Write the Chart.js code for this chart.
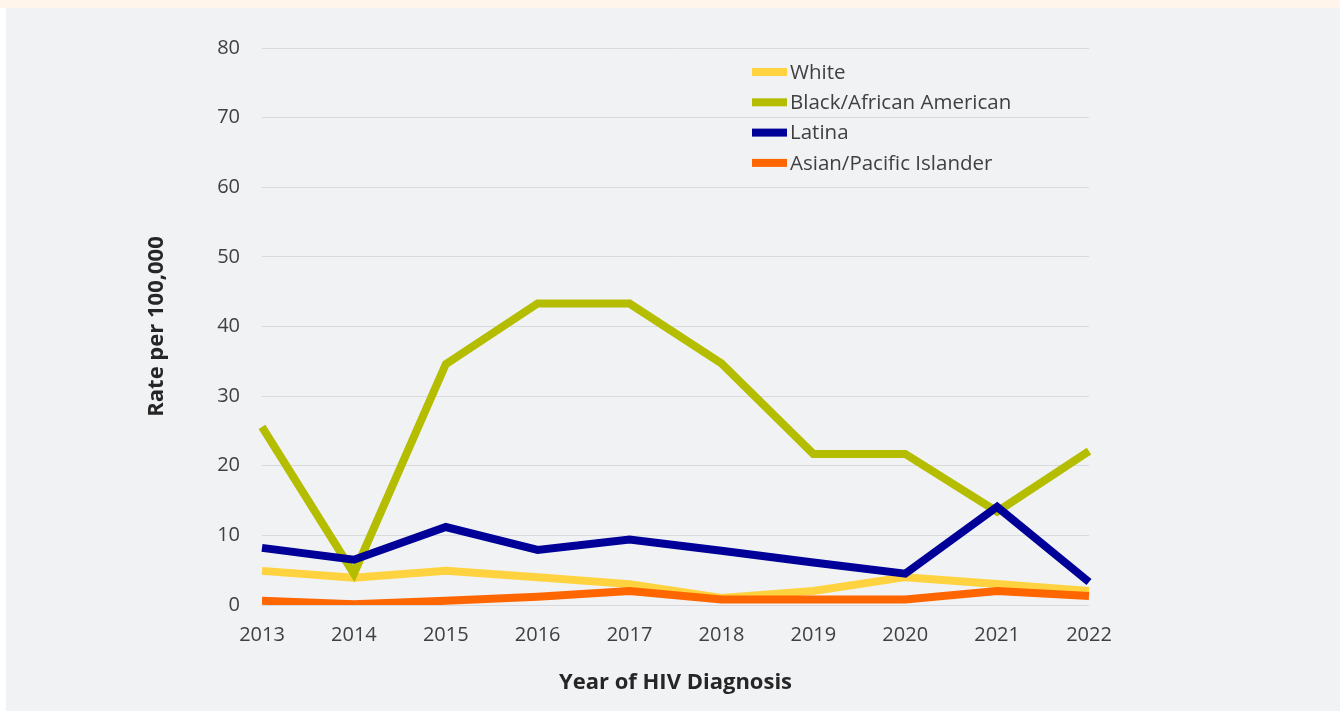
<!DOCTYPE html>
<html>
<head>
<meta charset="utf-8">
<script src="https://cdn.jsdelivr.net/npm/chart.js@4"></script>
<style>
  html, body { margin: 0; padding: 0; background: #ffffff; }
  #top { position: absolute; left: 0; top: 0; width: 1340px; height: 8px; background: #fff5ea; }
  #panel { position: absolute; left: 6px; top: 8px; width: 1334px; height: 703px; background: #f1f2f4; }
</style>
</head>
<body>
<div id="top"></div>
<div id="panel"><canvas id="rateChart" width="1334" height="703"></canvas></div>
<script>
  const years = ['2013', '2014', '2015', '2016', '2017', '2018', '2019', '2020', '2021', '2022'];
  const white = [4.9, 3.9, 4.9, 4.0, 3.0, 1.0, 2.0, 4.0, 3.0, 2.0];
  const black = [25.6, 4.5, 34.6, 43.3, 43.3, 34.7, 21.7, 21.7, 13.4, 22.1];
  const latina = [8.2, 6.5, 11.2, 7.9, 9.4, 7.8, 6.1, 4.5, 14.1, 3.3];
  const asian = [0.6, 0.1, 0.6, 1.2, 2.0, 0.8, 0.8, 0.8, 2.0, 1.3];
  const yTicks = [0, 10, 20, 30, 40, 50, 60, 70, 80];

  const seriesNames = ['White', 'Black/African American', 'Latina', 'Asian/Pacific Islander'];
  const seriesColors = ['#ffd33f', '#b5bd00', '#000099', '#ff6600'];
  const seriesData = [white, black, latina, asian];

  const textColor = '#404040';
  const fontFamily = "'Open Sans', sans-serif";

  // legend drawn by hand so it sits inside the plot like the original
  const fixedLegend = {
    id: 'fixedLegend',
    afterDraw(chart) {
      const ctx = chart.ctx;
      const area = chart.chartArea;
      const x0 = area.left + 490;
      const y0 = area.top + 24;
      ctx.save();
      ctx.font = '20.5px ' + fontFamily;
      ctx.textBaseline = 'middle';
      seriesNames.forEach((name, i) => {
        const y = y0 + i * 30.3;
        ctx.fillStyle = seriesColors[i];
        ctx.fillRect(x0, y - 4, 35, 8);
        ctx.fillStyle = textColor;
        ctx.fillText(name, x0 + 38, y + 1);
      });
      ctx.restore();
    }
  };

  const ctx = document.getElementById('rateChart').getContext('2d');
  const chart = new Chart(ctx, {
    type: 'line',
    data: {
      labels: years,
      datasets: seriesData.map((d, i) => ({
        label: seriesNames[i],
        data: d,
        borderColor: seriesColors[i],
        backgroundColor: seriesColors[i],
        borderWidth: 8,
        pointRadius: 0,
        tension: 0,
        order: 4 - i
      }))
    },
    options: {
      responsive: false,
      animation: false,
      layout: { padding: { left: 0, right: 251, top: 40, bottom: 0 } },
      plugins: {
        legend: { display: false },
        tooltip: { enabled: false }
      },
      scales: {
        x: {
          offset: false,
          grid: { display: false },
          border: { display: false },
          ticks: { color: textColor, font: { family: fontFamily, size: 20 }, padding: 10, maxRotation: 0 },
          title: {
            display: true,
            text: 'Year of HIV Diagnosis',
            color: '#262626',
            font: { family: fontFamily, size: 22, weight: 'bold' },
            padding: { top: 0, bottom: 15 }
          },
          afterFit(scale) { scale.height = 106; }
        },
        y: {
          min: 0,
          max: 80,
          afterBuildTicks(scale) { scale.ticks = yTicks.map(v => ({ value: v })); },
          grid: { color: '#d9dadc', lineWidth: 1, drawTicks: false },
          border: { display: false },
          ticks: { color: textColor, font: { family: fontFamily, size: 20 }, padding: 22 },
          title: {
            display: true,
            text: 'Rate per 100,000',
            color: '#262626',
            font: { family: fontFamily, size: 22, weight: 'bold' },
            padding: { top: 138, bottom: 0 }
          },
          afterFit(scale) { scale.width = 256; }
        }
      }
    },
    plugins: [fixedLegend]
  });
</script>
</body>
</html>
